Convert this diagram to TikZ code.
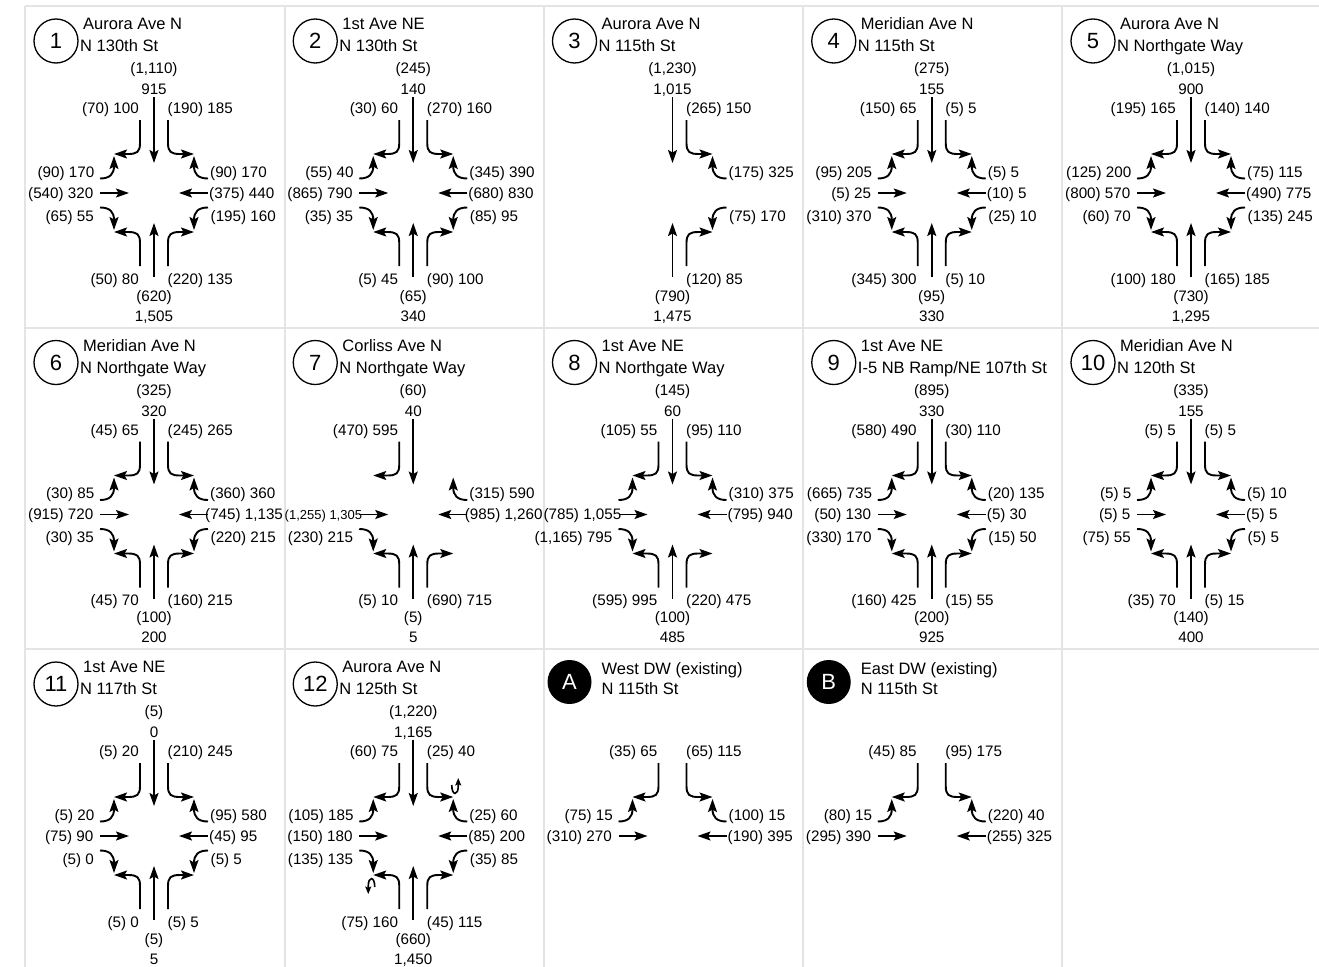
\documentclass[tikz,border=0pt]{standalone}
\usepackage{fontspec}
\setmainfont{Liberation Sans}
\usetikzlibrary{arrows.meta}

\definecolor{gridgray}{HTML}{E4E4E4}

% panel heading: circle with number, two street names
\newcommand{\panelhead}[4]{%
  \def\pid{#1}%
  \node[num] (#1-num) at (-98,-152) {#2};
  \node[street] (#1-st1) at (-71,-163.5) {#3};
  \node[street] (#1-st2) at (-74,-141.5) {#4};
}
\newcommand{\drivehead}[4]{%
  \def\pid{#1}%
  \node[drive] (#1-num) at (-103,-154) {#2};
  \node[street] (#1-st1) at (-71,-162) {#3};
  \node[street] (#1-st2) at (-71,-141.5) {#4};
}

% southbound
\newcommand{\sbThru}[2]{%
  \draw[mv] (0,-96) -- (0,-30);
  \node[vol, anchor=base] (\pid-sbt-pm) at (0,-119.5) {(#1)};
  \node[vol, anchor=base] (\pid-sbt) at (0,-98.5) {#2};
}
\newcommand{\sbRight}[1]{%
  \draw[mv] (-14,-73) -- (-14,-50) .. controls (-14,-41) and (-17,-39) .. (-26,-39) -- (-40,-39);
  \node[vol, anchor=base east] (\pid-sbr) at (-15,-79.5) {#1};
}
\newcommand{\sbLeft}[1]{%
  \draw[mv] (14,-73) -- (14,-50) .. controls (14,-41) and (17,-39) .. (26,-39) -- (40,-39);
  \node[vol, anchor=base west] (\pid-sbl) at (13.5,-79.5) {#1};
}
% eastbound
\newcommand{\ebLeft}[1]{%
  \draw[mv] (-54,-14.5) .. controls (-44,-14.5) and (-40,-19) .. (-40,-27) -- (-40,-37);
  \node[vol, anchor=base east] (\pid-ebl) at (-59.5,-16) {#1};
}
\newcommand{\ebThru}[2][0]{%
  \draw[mv] (-54,0) -- (-25,0);
  \node[vol, anchor=base east] (\pid-ebt) at ({-60.5+#1},5) {#2};
}
\newcommand{\ebRight}[1]{%
  \draw[mv] (-54,14.5) .. controls (-44,14.5) and (-40,19) .. (-40,27) -- (-40,37);
  \node[vol, anchor=base east] (\pid-ebr) at (-60,28) {#1};
}
% westbound
\newcommand{\wbRight}[1]{%
  \draw[mv] (54,-14.5) .. controls (44,-14.5) and (40,-19) .. (40,-27) -- (40,-37);
  \node[vol, anchor=base west] (\pid-wbr) at (56,-16) {#1};
}
\newcommand{\wbThru}[2][0]{%
  \draw[mv] (54,0) -- (25,0);
  \node[vol, anchor=base west] (\pid-wbt) at ({55+#1},5) {#2};
}
\newcommand{\wbLeft}[1]{%
  \draw[mv] (54,14.5) .. controls (44,14.5) and (40,19) .. (40,27) -- (40,37);
  \node[vol, anchor=base west] (\pid-wbl) at (56.5,28) {#1};
}
% northbound
\newcommand{\nbLeft}[1]{%
  \draw[mv] (-14,73) -- (-14,50) .. controls (-14,41) and (-17,39) .. (-26,39) -- (-40,39);
  \node[vol, anchor=base east] (\pid-nbl) at (-15,91) {#1};
}
\newcommand{\nbThru}[2]{%
  \draw[mv] (0,84) -- (0,30);
  \node[vol, anchor=base] (\pid-nbt-pm) at (0,108) {(#1)};
  \node[vol, anchor=base] (\pid-nbt) at (0,128) {#2};
}
\newcommand{\nbRight}[1]{%
  \draw[mv] (14,73) -- (14,50) .. controls (14,41) and (17,39) .. (26,39) -- (40,39);
  \node[vol, anchor=base west] (\pid-nbr) at (13.5,91) {#1};
}

\begin{document}
\begin{tikzpicture}[
    x=1pt, y=-1pt,
    mv/.style={line width=1.9pt, -{Stealth[length=13pt, width=9pt, inset=2.5pt]}},
    ut/.style={line width=1.6pt, -{Stealth[length=7.5pt, width=6pt, inset=1.5pt]}},
    vol/.style={inner sep=0pt, font=\fontsize{15.2}{16}\selectfont},
    street/.style={anchor=base west, inner sep=0pt, font=\fontsize{16.5}{17}\selectfont},
    num/.style={circle, draw, line width=1.3pt, minimum size=44pt, inner sep=0pt, font=\fontsize{22}{22}\selectfont},
    drive/.style={circle, fill=black, text=white, minimum size=44pt, inner sep=0pt, font=\fontsize{22}{22}\selectfont},
    grid/.style={gridgray, line width=2pt}
]
    \useasboundingbox (0,0) rectangle (1319,966);
    \fill[white] (0,0) rectangle (1319,966);

    % table lines
    \foreach \gx in {25.3,284.5,543.8,803,1062.3,1320}
        \draw[grid] (\gx,6) -- (\gx,972);
    \foreach \gy in {6,327.5,649}
        \draw[grid] (25.3,\gy) -- (1320,\gy);

    % row 1
    \begin{scope}[shift={(154,193)}]
        \panelhead{p1}{1}{Aurora Ave N}{N 130th St}
        \sbThru{1,110}{915} \sbRight{(70) 100} \sbLeft{(190) 185}
        \ebLeft{(90) 170} \ebThru{(540) 320} \ebRight{(65) 55}
        \wbRight{(90) 170} \wbThru{(375) 440} \wbLeft{(195) 160}
        \nbLeft{(50) 80} \nbThru{620}{1,505} \nbRight{(220) 135}
    \end{scope}
    \begin{scope}[shift={(413.25,193)}]
        \panelhead{p2}{2}{1st Ave NE}{N 130th St}
        \sbThru{245}{140} \sbRight{(30) 60} \sbLeft{(270) 160}
        \ebLeft{(55) 40} \ebThru{(865) 790} \ebRight{(35) 35}
        \wbRight{(345) 390} \wbThru{(680) 830} \wbLeft{(85) 95}
        \nbLeft{(5) 45} \nbThru{65}{340} \nbRight{(90) 100}
    \end{scope}
    \begin{scope}[shift={(672.5,193)}]
        \panelhead{p3}{3}{Aurora Ave N}{N 115th St}
        \sbThru{1,230}{1,015} \sbLeft{(265) 150}
        \wbRight{(175) 325} \wbLeft{(75) 170}
        \nbThru{790}{1,475} \nbRight{(120) 85}
    \end{scope}
    \begin{scope}[shift={(931.75,193)}]
        \panelhead{p4}{4}{Meridian Ave N}{N 115th St}
        \sbThru{275}{155} \sbRight{(150) 65} \sbLeft{(5) 5}
        \ebLeft{(95) 205} \ebThru{(5) 25} \ebRight{(310) 370}
        \wbRight{(5) 5} \wbThru{(10) 5} \wbLeft{(25) 10}
        \nbLeft{(345) 300} \nbThru{95}{330} \nbRight{(5) 10}
    \end{scope}
    \begin{scope}[shift={(1191,193)}]
        \panelhead{p5}{5}{Aurora Ave N}{N Northgate Way}
        \sbThru{1,015}{900} \sbRight{(195) 165} \sbLeft{(140) 140}
        \ebLeft{(125) 200} \ebThru{(800) 570} \ebRight{(60) 70}
        \wbRight{(75) 115} \wbThru{(490) 775} \wbLeft{(135) 245}
        \nbLeft{(100) 180} \nbThru{730}{1,295} \nbRight{(165) 185}
    \end{scope}

    % row 2
    \begin{scope}[shift={(154,514.5)}]
        \panelhead{p6}{6}{Meridian Ave N}{N Northgate Way}
        \sbThru{325}{320} \sbRight{(45) 65} \sbLeft{(245) 265}
        \ebLeft{(30) 85} \ebThru{(915) 720} \ebRight{(30) 35}
        \wbRight{(360) 360} \wbThru[-4]{(745) 1,135} \wbLeft{(220) 215}
        \nbLeft{(45) 70} \nbThru{100}{200} \nbRight{(160) 215}
    \end{scope}
    \begin{scope}[shift={(413.25,514.5)}]
        \panelhead{p7}{7}{Corliss Ave N}{N Northgate Way}
        \sbThru{60}{40} \sbRight{(470) 595}
        \ebThru[9.5]{\fontsize{13}{13}\selectfont (1,255) 1,305} \ebRight{(230) 215}
        \wbRight{(315) 590} \wbThru[-3.6]{(985) 1,260}
        \nbLeft{(5) 10} \nbThru{5}{5} \nbRight{(690) 715}
    \end{scope}
    \begin{scope}[shift={(672.5,514.5)}]
        \panelhead{p8}{8}{1st Ave NE}{N Northgate Way}
        \sbThru{145}{60} \sbRight{(105) 55} \sbLeft{(95) 110}
        \ebLeft{} \ebThru[9.5]{(785) 1,055} \ebRight{(1,165) 795}
        \wbRight{(310) 375} \wbThru{(795) 940}
        \nbLeft{(595) 995} \nbThru{100}{485} \nbRight{(220) 475}
    \end{scope}
    \begin{scope}[shift={(931.75,514.5)}]
        \panelhead{p9}{9}{1st Ave NE}{I-5 NB Ramp/NE 107th St}
        \sbThru{895}{330} \sbRight{(580) 490} \sbLeft{(30) 110}
        \ebLeft{(665) 735} \ebThru{(50) 130} \ebRight{(330) 170}
        \wbRight{(20) 135} \wbThru{(5) 30} \wbLeft{(15) 50}
        \nbLeft{(160) 425} \nbThru{200}{925} \nbRight{(15) 55}
    \end{scope}
    \begin{scope}[shift={(1191,514.5)}]
        \panelhead{p10}{10}{Meridian Ave N}{N 120th St}
        \sbThru{335}{155} \sbRight{(5) 5} \sbLeft{(5) 5}
        \ebLeft{(5) 5} \ebThru{(5) 5} \ebRight{(75) 55}
        \wbRight{(5) 10} \wbThru{(5) 5} \wbLeft{(5) 5}
        \nbLeft{(35) 70} \nbThru{140}{400} \nbRight{(5) 15}
    \end{scope}

    % row 3
    \begin{scope}[shift={(154,836)}]
        \panelhead{p11}{11}{1st Ave NE}{N 117th St}
        \sbThru{5}{0} \sbRight{(5) 20} \sbLeft{(210) 245}
        \ebLeft{(5) 20} \ebThru{(75) 90} \ebRight{(5) 0}
        \wbRight{(95) 580} \wbThru{(45) 95} \wbLeft{(5) 5}
        \nbLeft{(5) 0} \nbThru{5}{5} \nbRight{(5) 5}
    \end{scope}
    \begin{scope}[shift={(413.25,836)}]
        \panelhead{p12}{12}{Aurora Ave N}{N 125th St}
        \sbThru{1,220}{1,165} \sbRight{(60) 75} \sbLeft{(25) 40}
        \ebLeft{(105) 185} \ebThru{(150) 180} \ebRight{(135) 135}
        \wbRight{(25) 60} \wbThru{(85) 200} \wbLeft{(35) 85}
        \nbLeft{(75) 160} \nbThru{660}{1,450} \nbRight{(45) 115}
        % u-turns
        \draw[ut] (38.5,-51) .. controls (38.5,-40) and (45,-40) .. (45,-50) -- (45,-58);
        \draw[ut] (-38.5,51) .. controls (-38.5,40) and (-45,40) .. (-45,50) -- (-45,58);
    \end{scope}
    \begin{scope}[shift={(672.5,836)}]
        \drivehead{pA}{A}{West DW (existing)}{N 115th St}
        \sbRight{(35) 65} \sbLeft{(65) 115}
        \ebLeft{(75) 15} \ebThru{(310) 270}
        \wbRight{(100) 15} \wbThru{(190) 395}
    \end{scope}
    \begin{scope}[shift={(931.75,836)}]
        \drivehead{pB}{B}{East DW (existing)}{N 115th St}
        \sbRight{(45) 85} \sbLeft{(95) 175}
        \ebLeft{(80) 15} \ebThru{(295) 390}
        \wbRight{(220) 40} \wbThru{(255) 325}
    \end{scope}
\end{tikzpicture}
\end{document}
